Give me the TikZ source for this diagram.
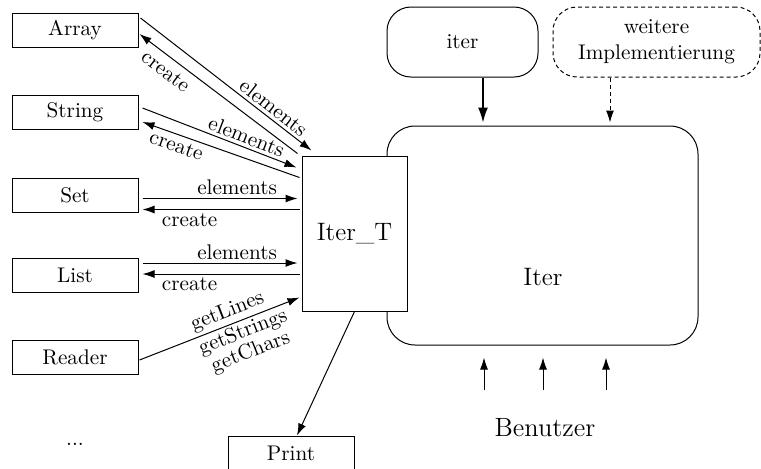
\documentclass[tikz,border=0pt]{standalone}
\usetikzlibrary{arrows.meta,calc}

\begin{document}
\begin{tikzpicture}[x=0.5pt,y=-0.5pt,
  font=\fontsize{10.6}{10.5}\selectfont,
  cls/.style={draw, line width=0.5pt, minimum width=63pt, minimum height=17pt, inner sep=0pt},
  pill/.style={draw, line width=0.5pt, rounded corners=12pt, minimum width=#1, minimum height=35pt, align=center},
  arr/.style={-{Latex[length=6pt,width=4pt]}, line width=0.5pt},
  rarr/.style={{Latex[length=6pt,width=4pt]}-, line width=0.5pt},
  big/.style={font=\fontsize{12.6}{14}\selectfont}]
  \useasboundingbox (0,0) rectangle (761,468);

  % the module Iter with its two implementations on top
  \node[draw, line width=0.5pt, rounded corners=14pt, minimum width=155.5pt, minimum height=109.5pt] (iterbox) at (542.5,235.5) {};
  \node[big] (iterlbl) at (543,277.5) {Iter};
  \node[pill=75.5pt] (iter) at (462.5,42) {iter};
  \node[pill=103.5pt, dash pattern=on 2pt off 1.5pt, font=\fontsize{10.6}{13.2}\selectfont] (weitere) at (656.5,42) {weitere\\Implementierung};
  \draw[-{Latex[length=7.5pt,width=5pt]}, line width=0.8pt, shorten >=1.5pt] ($(iter.south)+(20.5,0)$) -- ($(iterbox.north)+(-59.5,0)$);
  \draw[arr, dash pattern=on 2pt off 1.5pt, shorten >=1.5pt] ($(weitere.south)+(-46.5,0)$) -- ($(iterbox.north)+(67.5,0)$);

  % the adapter sits on the left edge of Iter
  \node[draw, fill=white, line width=0.5pt, minimum width=52.5pt, minimum height=77.5pt, big] (itert) at (354.5,233.5) {Iter\_T};

  % sources
  \node[cls] (array) at (75,30) {Array};
  \node[cls] (string) at (75,112) {String};
  \node[cls] (set) at (75,195.5) {Set};
  \node[cls] (list) at (75,275.5) {List};
  \node[cls] (reader) at (75,357.5) {Reader};
  \node (more) at (75,444) {...};
  \node[cls] (print) at (291,453) {Print};

  \draw[arr] ([shift={(2,-12)}]array.east) -- node[sloped, above, pos=0.74, inner sep=1.5pt] {elements} ([shift={(10,-5)}]itert.north west);
  \draw[rarr] ([shift={(1,4)}]array.east) -- node[sloped, below, pos=0.22, inner sep=3.5pt] {create} ([shift={(-4,-2)}]itert.north west);

  \draw[arr] ([shift={(4,-4)}]string.east) -- node[sloped, above, pos=0.65, inner sep=1.5pt] {elements} ([shift={(-5,12)}]itert.north west);
  \draw[rarr] ([shift={(4,10)}]string.east) -- node[sloped, below, pos=0.24, inner sep=2pt] {create} ([shift={(-2,22)}]itert.north west);

  \draw[arr] ($(set.east)+(4,3)$) -- node[above, pos=0.61, inner sep=1.5pt] {elements} ($(set.east -| itert.west)+(-4,3)$);
  \draw[rarr] ($(set.east)+(4,14)$) -- node[below, pos=0.3, inner sep=1.5pt] {create} ($(set.east -| itert.west)+(-2,14)$);

  \draw[arr] ($(list.east)+(4,-12.5)$) -- node[above, pos=0.61, inner sep=1.5pt] {elements} ($(list.east -| itert.west)+(-4,-12.5)$);
  \draw[rarr] ($(list.east)+(4,-1.5)$) -- node[below, pos=0.3, inner sep=1.5pt] {create} ($(list.east -| itert.west)+(-2,-1.5)$);

  \draw[arr] ([shift={(1,2.5)}]reader.east) -- node[sloped, above, pos=0.58, inner sep=1.5pt] {getLines}
    node[sloped, below, pos=0.62, inner sep=1pt, align=center] {getStrings\\getChars} ([shift={(-2,-14)}]itert.south west);

  \draw[arr] (itert.south) -- ([xshift=3pt]print.north);

  % users of Iter
  \node[font=\fontsize{13.2}{15}\selectfont] (benutzer) at (545,428) {Benutzer};
  \foreach \dx in {-61,-2,61}
    \draw[arr, shorten <=11pt, shorten >=6pt] ($(benutzer.north)+(\dx,0)$) -- ($(iterbox.south)+(\dx+2.5,0)$);
\end{tikzpicture}
\end{document}
